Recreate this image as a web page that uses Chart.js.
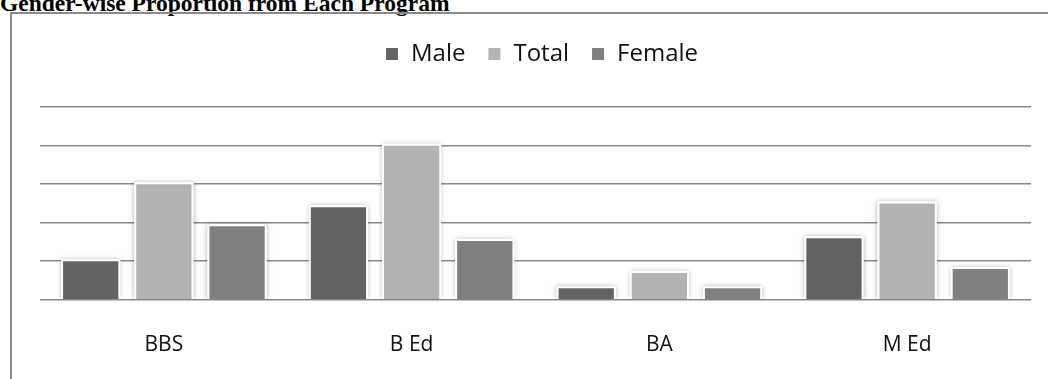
<!DOCTYPE html>
<html>
<head>
<meta charset="utf-8">
<script src="https://cdn.jsdelivr.net/npm/chart.js@4/dist/chart.umd.min.js"></script>
<style>
  html, body { margin: 0; padding: 0; background: #fff; overflow: hidden; }
  body { width: 1048px; height: 379px; position: relative; }
  .heading {
    position: absolute; left: 0; top: -10px; margin: 0;
    font: bold 23.5px "Liberation Serif", "Times New Roman", serif;
    color: #000; white-space: nowrap;
  }
  .frame {
    position: absolute; left: 10px; top: 12px;
    width: 1100px; height: 420px;
    border: 2px solid #8a8a8a; box-sizing: border-box;
  }
  #genderChart { position: absolute; left: 0; top: 0; }
</style>
</head>
<body>
<p class="heading">Gender-wise Proportion from Each Program</p>
<div class="frame"></div>
<canvas id="genderChart" width="1048" height="379"></canvas>
<script>
const programs = ["BBS", "B Ed", "BA", "M Ed"];
const male = [10.5, 24.5, 3.5, 16.5];
const total = [30.5, 40.5, 7.5, 25.5];
const female = [19.6, 15.8, 3.5, 8.5];

const colMale = "#636363";
const colTotal = "#b3b3b3";
const colFemale = "#808080";

// soft halo behind every bar, like the office chart style
const barShadow = {
  id: "barShadow",
  beforeDatasetsDraw(chart) {
    const ctx = chart.ctx;
    const a = chart.chartArea;
    ctx.save();
    ctx.beginPath();
    ctx.rect(a.left - 10, a.top - 10, a.right - a.left + 20, a.bottom - a.top + 10);
    ctx.clip();
    ctx.shadowColor = "rgba(0,0,0,0.3)";
    ctx.shadowBlur = 5;
    ctx.fillStyle = "#fff";
    chart.data.datasets.forEach((ds, i) => {
      chart.getDatasetMeta(i).data.forEach(bar => {
        const p = bar.getProps(["x", "y", "base", "width"], true);
        ctx.fillRect(p.x - p.width / 2, p.y, p.width, p.base - p.y);
      });
    });
    ctx.restore();
  }
};

// extra room between legend and plot, legend nudged a bit right
const legendGap = {
  id: "legendGap",
  beforeInit(chart) {
    const fit = chart.legend.fit;
    chart.legend.fit = function () {
      fit.call(this);
      this.height += 31;
    };
  },
  afterLayout(chart) {
    chart.legend.left += 6;
    chart.legend.right += 6;
  }
};

const ctx = document.getElementById("genderChart").getContext("2d");
const chart = new Chart(ctx, {
  type: "bar",
  data: {
    labels: programs,
    datasets: [
      { label: "Male", data: male, backgroundColor: colMale },
      { label: "Total", data: total, backgroundColor: colTotal },
      { label: "Female", data: female, backgroundColor: colFemale }
    ]
  },
  options: {
    responsive: false,
    animation: false,
    // the x axis reserves its tick padding twice, so the bottom is pulled in
    layout: { padding: { top: 20, left: 40, right: 17, bottom: -12 } },
    datasets: {
      bar: {
        borderColor: "#ffffff",
        borderWidth: 2,
        categoryPercentage: 0.886,
        barPercentage: 0.81
      }
    },
    plugins: {
      tooltip: { enabled: false },
      legend: {
        position: "top",
        labels: {
          color: "#111",
          font: { family: "Open Sans", size: 24 },
          boxWidth: 14,
          boxHeight: 14,
          padding: 22
        }
      }
    },
    scales: {
      x: {
        grid: { display: false, drawTicks: false },
        border: { display: false },
        ticks: {
          color: "#111",
          font: { family: "Open Sans", size: 21 },
          padding: 33
        }
      },
      y: {
        min: 0,
        max: 50,
        ticks: { display: false, stepSize: 10 },
        grid: { color: "#8a8a8a", lineWidth: 1.5, drawTicks: false },
        border: { display: false }
      }
    }
  },
  plugins: [barShadow, legendGap]
});
</script>
</body>
</html>
